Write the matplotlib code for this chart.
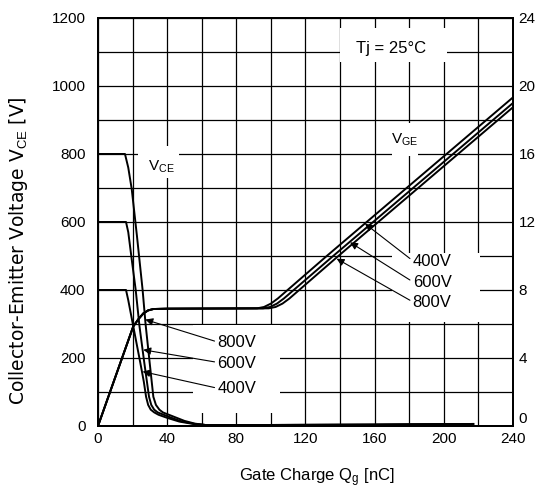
import matplotlib
matplotlib.use('Agg')
import matplotlib.pyplot as plt
from matplotlib.patches import Rectangle

plt.rcParams['font.family'] = ['Liberation Sans', 'DejaVu Sans']
plt.rcParams['mathtext.fontset'] = 'custom'
plt.rcParams['mathtext.rm'] = 'Liberation Sans'
plt.rcParams['mathtext.it'] = 'Liberation Sans:italic'

# ---- data ----
# Collector-emitter voltage curves [V] vs gate charge [nC]
vce400_q = [0, 16.2, 17.5, 20.4, 24.5, 26.5, 27.8, 29.0, 30.5, 32.5, 35, 40, 47, 55, 62, 100, 160, 217]
vce400_v = [400, 400, 370, 293, 185, 130, 86, 62, 48, 40, 33, 24, 13, 6, 3, 3, 4, 6]
vce600_q = [0, 16.2, 17.5, 19.5, 21.8, 24.0, 26.8, 29.5, 30.8, 32.5, 34.5, 37, 42, 48, 56, 62, 100, 160, 217]
vce600_v = [600, 600, 570, 490, 400, 293, 185, 86, 62, 48, 40, 35, 25, 14, 6, 3, 3, 4, 6]
vce800_q = [0, 15.6, 17.5, 19.5, 22.5, 25.8, 27.5, 29.8, 32.0, 33.5, 35.5, 37.5, 40, 44, 50, 56, 62, 100, 160, 217]
vce800_v = [800, 800, 760, 697, 560, 400, 300, 190, 86, 62, 48, 40, 35, 27, 15, 7, 3, 3, 4, 6]

# Gate-emitter voltage curves [V] vs gate charge [nC]
vge400_q = [0, 20.4, 23.5, 26.2, 29, 32, 40, 92.0, 96.0, 100.0, 104.0, 132.3, 240]
vge400_v = [0, 5.86, 6.3, 6.62, 6.8, 6.88, 6.9, 6.92, 7.0, 7.2, 7.5, 10.0, 19.33]
vge600_q = [0, 20.4, 23.5, 26.2, 29, 32, 40, 95.5, 99.5, 103.5, 107.5, 136.0, 240]
vge600_v = [0, 5.86, 6.3, 6.62, 6.8, 6.88, 6.9, 6.92, 7.0, 7.2, 7.5, 10.0, 19.0]
vge800_q = [0, 20.4, 23.5, 26.2, 29, 32, 40, 98.7, 102.7, 106.7, 110.7, 139.0, 240]
vge800_v = [0, 5.86, 6.3, 6.62, 6.8, 6.88, 6.9, 6.92, 7.0, 7.2, 7.5, 10.0, 18.75]

x_ticks = list(range(0, 241, 20))
x_labels = [str(v) if v % 40 == 0 else '' for v in x_ticks]
yl_ticks = list(range(0, 1201, 100))
yl_labels = [str(v) if v % 200 == 0 else '' for v in yl_ticks]
yr_ticks = list(range(0, 25, 4))
yr_labels = [str(v) for v in yr_ticks]

fig = plt.figure(figsize=(5.37, 4.91), dpi=100)
ax = fig.add_axes([0.1825, 0.1324, 0.7728, 0.8310])
ax.set_xlim(0, 240)
ax.set_ylim(0, 1200)
ax.set_xticks(x_ticks)
ax.set_xticklabels(x_labels, fontsize=11)
ax.set_yticks(yl_ticks)
ax.set_yticklabels(yl_labels, fontsize=11)
ax.tick_params(length=0, pad=4)
ax.tick_params(axis='y', pad=9)
ax.set_axisbelow(True)
ax.grid(True, color='black', lw=0.9)
for s in ax.spines.values():
    s.set_linewidth(1.4)

# white-out areas behind labels (as in the original)
for (x0, y0, w, h) in [(55, 38, 50, 258), (170, 305, 51, 203), (140, 1070, 62, 100),
                       (23, 730, 24, 92), (170, 795, 15, 95)]:
    ax.add_patch(Rectangle((x0, y0), w, h, facecolor='white', edgecolor='none', zorder=1))

lw = 1.4
ax.plot(vce400_q, vce400_v, color='black', lw=lw, zorder=3)
ax.plot(vce600_q, vce600_v, color='black', lw=lw, zorder=3)
ax.plot(vce800_q, vce800_v, color='black', lw=lw, zorder=3)

ax2 = ax.twinx()
ax2.set_ylim(0, 24)
ax2.set_yticks(yr_ticks)
ax2.set_yticklabels(yr_labels, fontsize=11)
ax2.tick_params(length=0, pad=4)
ax2.get_yticklabels()[0].set_verticalalignment('bottom')
for s in ax2.spines.values():
    s.set_linewidth(1.4)
ax2.plot(vge400_q, vge400_v, color='black', lw=lw, zorder=3)
ax2.plot(vge600_q, vge600_v, color='black', lw=lw, zorder=3)
ax2.plot(vge800_q, vge800_v, color='black', lw=lw, zorder=3)

arrow = dict(arrowstyle='-|>', color='black', lw=0.8, mutation_scale=11,
             shrinkA=0, shrinkB=0, relpos=(0, 0.55))
# left labels (VCE curves)
ax.annotate('800V', xy=(27.4, 313), xytext=(69, 245), fontsize=12, ha='left', va='center',
            arrowprops=arrow, zorder=4)
ax.annotate('600V', xy=(26.2, 224), xytext=(69, 185), fontsize=12, ha='left', va='center',
            arrowprops=arrow, zorder=4)
ax.annotate('400V', xy=(25.8, 160), xytext=(69, 109), fontsize=12, ha='left', va='center',
            arrowprops=arrow, zorder=4)
# right labels (VGE curves)
ax.annotate('400V', xy=(154.4, 595), xytext=(182, 484), fontsize=12, ha='left', va='center',
            arrowprops=arrow, zorder=4)
ax.annotate('600V', xy=(145.8, 540), xytext=(182, 422), fontsize=12, ha='left', va='center',
            arrowprops=arrow, zorder=4)
ax.annotate('800V', xy=(138.0, 492), xytext=(182, 363), fontsize=12, ha='left', va='center',
            arrowprops=arrow, zorder=4)

ax.text(36.4, 761, r'V$_{\mathrm{CE}}$', fontsize=11, ha='center', va='center', zorder=4)
ax.text(177.6, 841, r'V$_{\mathrm{GE}}$', fontsize=11, ha='center', va='center', zorder=4)
ax.text(169.5, 1110, 'Tj = 25°C', fontsize=12, ha='center', va='center', zorder=4)

fig.text(0.034, 0.489, r'Collector-Emitter Voltage V$_{\mathrm{CE}}$ [V]', rotation=90,
         fontsize=13.5, family=['DejaVu Sans'], ha='center', va='center')
fig.text(0.590, 0.0265, r'Gate Charge Q$_{\mathrm{g}}$ [nC]', fontsize=12, ha='center', va='center')

fig.savefig('out.png', dpi=100, facecolor='white')
